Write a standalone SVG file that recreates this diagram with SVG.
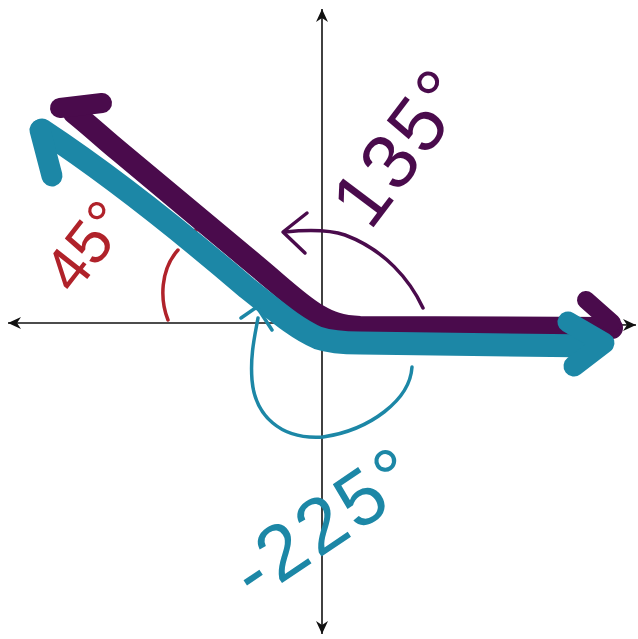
<svg xmlns="http://www.w3.org/2000/svg" width="638" height="639" viewBox="0 0 638 639">
<style>
.axis{stroke:#111;stroke-width:1.6;fill:none}
.pur{stroke:#4a0b4c;fill:none;stroke-linecap:round;stroke-linejoin:round}
.teal{stroke:#1c87a6;fill:none;stroke-linecap:round;stroke-linejoin:round}
.red{stroke:#b0222a;fill:none;stroke-linecap:round;stroke-linejoin:round}
.lbl{font-family:"Liberation Sans",Arial,sans-serif}
</style>
<defs>
<marker id="ah" viewBox="-14 -7 16 14" markerWidth="16" markerHeight="14" refX="0" refY="0" orient="auto" markerUnits="userSpaceOnUse">
<path d="M0,0 L-13,-6 L-9,0 L-13,6 Z" fill="#111"/>
</marker>
</defs>
<rect width="638" height="639" fill="#fff"/>
<g id="axes">
<line class="axis" x1="322" y1="323" x2="322" y2="9" marker-end="url(#ah)"/>
<line class="axis" x1="322" y1="323" x2="322" y2="634" marker-end="url(#ah)"/>
<line class="axis" x1="322" y1="323" x2="8" y2="323" marker-end="url(#ah)"/>
<line class="axis" x1="322" y1="323" x2="636" y2="325" marker-end="url(#ah)"/>
</g>
<g id="red-angle">
<path class="red" stroke-width="3.5" d="M168 320 C160 300,160 270,178 250"/>
<circle cx="195" cy="231" r="2.5" fill="#b0222a"/>
<text class="lbl" x="0" y="0" font-size="62" fill="#b0222a" transform="translate(74,296) rotate(-52)">45°</text>
</g>
<g id="purple-ray">
<path class="pur" stroke-width="22" d="M74 113 C95 130,105 140,120 152 L247 258 C280 285,300 305,318 315 C330 322,340 326,360 327 L612 328"/>
<path class="pur" stroke-width="20" d="M60 108 L102 103"/>
<path class="pur" stroke-width="18" d="M586 300 L612 323"/>
</g>
<g id="teal-ray">
<path class="teal" stroke-width="23" d="M42 130 C80 155,150 205,247 288 C275 310,295 328,318 338 C330 342,345 343,360 343 L595 346"/>
<path class="teal" stroke-width="21" d="M40 130 L52 176"/>
<path class="teal" stroke-width="21" d="M568 322 L604 343 L574 366"/>
</g>
<g id="purple-angle">
<path class="pur" stroke-width="3.5" d="M423 308 C410 280,385 250,345 235 C330 230,305 230,285 232"/>
<path class="pur" stroke-width="3.5" d="M307 213 L283 232 L305 253"/>
<text class="lbl" x="0" y="0" font-size="78" letter-spacing="3" fill="#4a0b4c" transform="translate(370,232) rotate(-53)">135°</text>
</g>
<g id="teal-angle">
<path class="teal" stroke-width="3.5" d="M412 367 C410 400,370 430,323 437 C280 440,255 415,252 380 C250 355,255 335,258 318"/>
<path class="teal" stroke-width="3.5" d="M241 318 L257 307 L272 330"/>
<text class="lbl" x="0" y="0" font-size="78" letter-spacing="4" fill="#1c87a6" transform="translate(254,602) rotate(-34)">-225°</text>
</g>
</svg>
